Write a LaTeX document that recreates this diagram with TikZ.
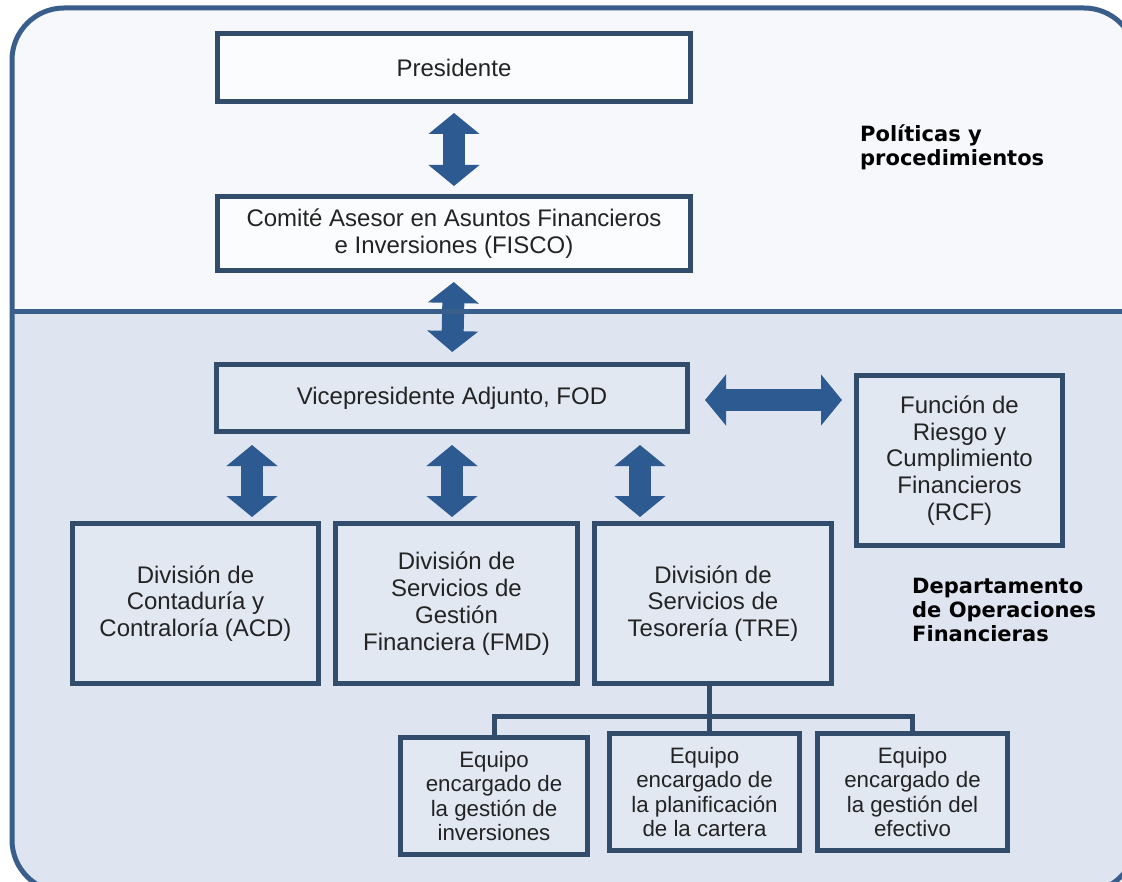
\documentclass[tikz,border=0pt]{standalone}
\usepackage{fontspec}
\setmainfont{Liberation Sans}
\newfontfamily\labelfont{DejaVu Sans}
\usetikzlibrary{arrows.meta}

\definecolor{topbg}{RGB}{247,248,251}
\definecolor{botbg}{RGB}{222,229,240}
\definecolor{outerc}{RGB}{58,94,140}
\definecolor{boxc}{RGB}{50,77,108}
\definecolor{arrc}{RGB}{45,90,145}
\definecolor{txtc}{RGB}{35,35,35}
\definecolor{topfill}{RGB}{251,252,253}
\definecolor{lowfill}{RGB}{226,232,242}

\tikzset{
 box/.style={draw=boxc, line width=5pt, inner sep=0pt, align=center, text=txtc,
   font=\fontsize{24}{26.8}\selectfont},
 topbox/.style={box, fill=topfill},
 lowbox/.style={box, fill=lowfill},
 teambox/.style={lowbox, font=\fontsize{22.3}{24.5}\selectfont},
 bigarrow/.style={draw=arrc, line width=22pt,
   {Triangle[length=21pt,width=50pt]}-{Triangle[length=21pt,width=50pt]}},
 treeline/.style={draw=boxc, line width=5pt},
 sidelabel/.style={inner sep=0pt, anchor=north west, align=left, text=black,
   font=\labelfont\bfseries\fontsize{21}{24}\selectfont},
 frameline/.style={draw=outerc, line width=5pt}
}

\begin{document}
\begin{tikzpicture}[x=1pt,y=-1pt]
\useasboundingbox (0,0) rectangle (1122,882);
\clip (0,0) rectangle (1122,882);
\fill[white] (0,0) rectangle (1122,882);
\path[fill=botbg, rounded corners=52pt] (12,8) rectangle (1136,892);
\begin{scope}
  \clip[rounded corners=52pt] (12,8) rectangle (1136,892);
  \fill[topbg] (0,0) rectangle (1136,312);
\end{scope}

% boxes
\node[topbox, minimum width=473pt, minimum height=68pt] (pres) at (454,67.5) {Presidente};
\node[topbox, minimum width=473pt, minimum height=74pt] (fisco) at (454,233.5)
  {Comité Asesor en Asuntos Financieros\\e Inversiones (FISCO)};
\node[lowbox, minimum width=471pt, minimum height=67pt] (vice) at (452,398) {Vicepresidente Adjunto, FOD};
\node[lowbox, minimum width=206pt, minimum height=170pt] (rcf) at (959.5,460.5)
  {Función de\\Riesgo y\\Cumplimiento\\Financieros\\(RCF)};
\node[lowbox, minimum width=246pt, minimum height=160pt] (acd) at (195.5,603.5)
  {División de\\Contaduría y\\Contraloría (ACD)};
\node[lowbox, minimum width=242pt, minimum height=160pt] (fmd) at (456.5,603.5)
  {División de\\Servicios de\\Gestión\\Financiera (FMD)};
\node[lowbox, minimum width=237pt, minimum height=160pt] (tre) at (713,603.5)
  {División de\\Servicios de\\Tesorería (TRE)};
\node[teambox, minimum width=187pt, minimum height=117pt] (e1) at (494,796)
  {Equipo\\encargado de\\la gestión de\\inversiones};
\node[teambox, minimum width=190pt, minimum height=117pt] (e2) at (704.5,792)
  {Equipo\\encargado de\\la planificación\\de la cartera};
\node[teambox, minimum width=190pt, minimum height=117pt] (e3) at (912.5,792)
  {Equipo\\encargado de\\la gestión del\\efectivo};

% side labels
\node[sidelabel] (pol) at (860,125) {Políticas y\\procedimientos};
\node[sidelabel] (dep) at (912,578) {Departamento\\de Operaciones\\Financieras};

% arrows
\coordinate (ax1) at (252,0);
\coordinate (ax2) at (452,0);
\coordinate (ax3) at (640,0);
\draw[bigarrow, shorten <=9pt, shorten >=8pt] (pres.south) -- (fisco.north);
\draw[bigarrow, shorten <=9pt, shorten >=10pt] (fisco.south) -- (vice.north);
\draw[bigarrow, shorten <=11pt, shorten >=4pt] (vice.south -| ax1) -- (acd.north -| ax1);
\draw[bigarrow, shorten <=11pt, shorten >=4pt] (vice.south -| ax2) -- (fmd.north -| ax2);
\draw[bigarrow, shorten <=11pt, shorten >=4pt] (vice.south -| ax3) -- (tre.north -| ax3);
\coordinate (hy) at (0,400);
\draw[bigarrow, shorten <=15pt, shorten >=12pt] (vice.east |- hy) -- (rcf.west |- hy);

% tree
\coordinate (bar) at (0,716);
\coordinate (stemx) at (709,0);
\draw[treeline] (tre.south -| stemx) -- (e2.north -| stemx);
\draw[treeline] (e1.north) -- (e1.north |- bar) -- (e3.north |- bar) -- (e3.north);

% frame
\draw[frameline] (12,312) -- (1136,312);
\draw[frameline, rounded corners=52pt] (12,8) rectangle (1136,892);
\end{tikzpicture}
\end{document}
